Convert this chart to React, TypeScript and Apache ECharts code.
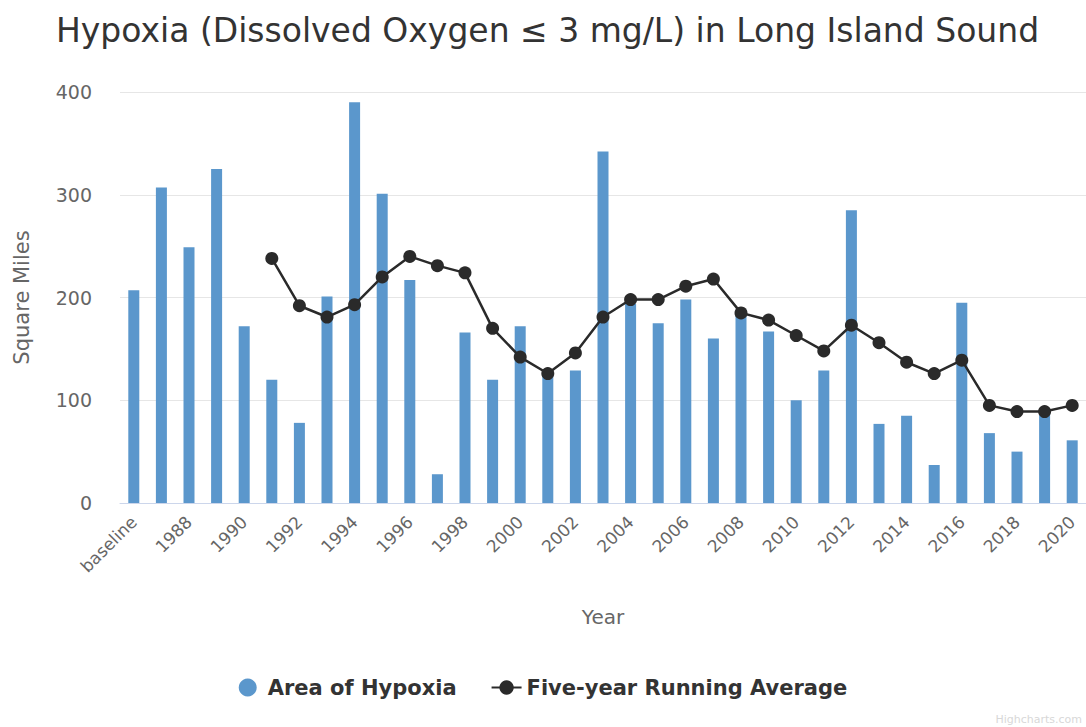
import React, { useEffect, useRef } from "react";
import * as echarts from "echarts";

const categories = [
  "baseline", "1987", "1988", "1989", "1990", "1991", "1992", "1993", "1994", "1995",
  "1996", "1997", "1998", "1999", "2000", "2001", "2002", "2003", "2004", "2005",
  "2006", "2007", "2008", "2009", "2010", "2011", "2012", "2013", "2014", "2015",
  "2016", "2017", "2018", "2019", "2020",
];

const areaOfHypoxia = [
  207, 307, 249, 325, 172, 120, 78, 201, 390, 301,
  217, 28, 166, 120, 172, 124, 129, 342, 194, 175,
  198, 160, 188, 167, 100, 129, 285, 77, 85, 37,
  195, 68, 50, 88, 61,
];

const runningAverage = [
  null, null, null, null, null, 238, 192, 181, 193, 220,
  240, 231, 224, 170, 142, 126, 146, 181, 198, 198,
  211, 218, 185, 178, 163, 148, 173, 156, 137, 126,
  139, 95, 89, 89, 95,
];

const yTicks = { min: 0, max: 400, interval: 100 };

const FONT = "'DejaVu Sans', 'Noto Sans', sans-serif";

export default function App() {
  const ref = useRef<HTMLDivElement>(null);

  useEffect(() => {
    if (!ref.current) return;
    const chart = echarts.init(ref.current, null, { renderer: "svg" });
    chart.setOption({
      animation: false,
      backgroundColor: "#ffffff",
      textStyle: { fontFamily: FONT },
      title: {
        text: "Hypoxia (Dissolved Oxygen \u2264 3 mg/L) in Long Island Sound",
        left: 51,
        top: 9,
        textStyle: { fontFamily: FONT, fontSize: 33, fontWeight: "normal", color: "#333333" },
      },
      grid: { left: 120, right: -3, top: 92, bottom: 224, containLabel: false },
      legend: {
        bottom: 24,
        left: "center",
        itemGap: 34,
        itemWidth: 30,
        itemHeight: 18,
        textStyle: { fontFamily: FONT, fontSize: 21, fontWeight: "bold", color: "#333333" },
        data: [
          { name: "Area of Hypoxia", icon: "circle" },
          { name: "Five-year Running Average" },
        ],
      },
      xAxis: {
        type: "category",
        data: categories,
        name: "Year",
        nameLocation: "middle",
        nameGap: 104,
        nameTextStyle: { fontFamily: FONT, fontSize: 20, color: "#666666" },
        axisLine: { show: true, lineStyle: { color: "#ccd6eb", width: 1 } },
        axisTick: { show: false },
        axisLabel: {
          interval: 1,
          rotate: 45,
          margin: 16,
          fontFamily: FONT,
          fontSize: 17,
          color: "#666666",
        },
      },
      yAxis: {
        type: "value",
        min: yTicks.min,
        max: yTicks.max,
        interval: yTicks.interval,
        name: "Square Miles",
        nameLocation: "middle",
        nameGap: 88,
        nameTextStyle: { fontFamily: FONT, fontSize: 21, color: "#666666" },
        axisLine: { show: false },
        axisTick: { show: false },
        axisLabel: { margin: 28, fontFamily: FONT, fontSize: 19, color: "#666666" },
        splitLine: { lineStyle: { color: "#e6e6e6", width: 1 } },
      },
      series: [
        {
          name: "Area of Hypoxia",
          type: "bar",
          data: areaOfHypoxia,
          barWidth: 11,
          itemStyle: { color: "#5b97cc" },
        },
        {
          name: "Five-year Running Average",
          type: "line",
          data: runningAverage,
          connectNulls: false,
          symbol: "circle",
          symbolSize: 13,
          lineStyle: { color: "#2a2a2a", width: 2.5 },
          itemStyle: { color: "#2a2a2a" },
          z: 3,
        },
      ],
      graphic: [
        {
          type: "text",
          right: 4,
          bottom: 2,
          style: { text: "Highcharts.com", fontFamily: FONT, fontSize: 11, fill: "#d8d8d8" },
        },
      ],
    });
    return () => chart.dispose();
  }, []);

  return (
    <div
      ref={ref}
      style={{ position: "fixed", left: 0, top: 0, width: 1086, height: 727, background: "#fff" }}
    />
  );
}
